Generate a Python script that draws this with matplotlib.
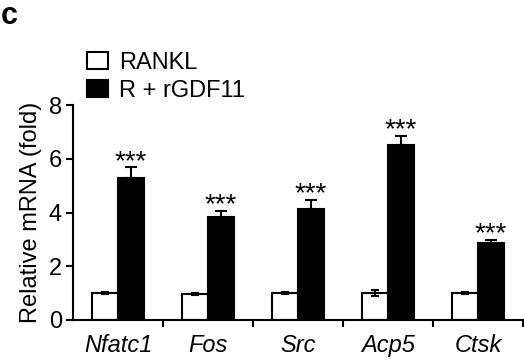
import numpy as np
import matplotlib
matplotlib.use('Agg')
import matplotlib.pyplot as plt

plt.rcParams['font.family'] = ['Liberation Sans', 'DejaVu Sans']

# data #
genes = ['Nfatc1', 'Fos', 'Src', 'Acp5', 'Ctsk']
rankl = [1.0, 0.98, 1.0, 1.0, 1.0]
rankl_err = [0.05, 0.04, 0.03, 0.1, 0.03]
rgdf11 = [5.27, 3.84, 4.13, 6.5, 2.85]
rgdf11_err = [0.41, 0.22, 0.33, 0.34, 0.12]
stars = ['***', '***', '***', '***', '***']

fig = plt.figure(figsize=(5.24, 3.62), dpi=100)
ax = fig.add_axes([73/524, 1-320/362, 450/524, 215/362])

x = np.arange(len(genes))
w = 0.29
ax.bar(x - w/2, rankl, w, color='white', edgecolor='black', linewidth=1.5,
       label='RANKL', zorder=2)
ax.bar(x + w/2, rgdf11, w, color='black', edgecolor='black', linewidth=1.5,
       label='R + rGDF11', zorder=2)
ax.errorbar(x - w/2, rankl, yerr=rankl_err, fmt='none', ecolor='black',
            elinewidth=1.5, capsize=3, capthick=1.5, zorder=3)
ax.errorbar(x + w/2, rgdf11, yerr=[np.zeros(len(genes)), rgdf11_err], fmt='none',
            ecolor='black', elinewidth=1.5, capsize=4.5, capthick=1.5, zorder=3)

for xi, v, e, s in zip(x, rgdf11, rgdf11_err, stars):
    ax.annotate(s, (xi + w/2, v + e), xytext=(0, -1), textcoords='offset points',
                ha='center', va='baseline', fontsize=20)

ax.set_xlim(-0.5, len(genes) - 0.5)
ax.set_ylim(0, 8)
ax.set_yticks([0, 2, 4, 6, 8])
ax.set_xticks(x)
ax.set_xticklabels(genes, style='italic', fontsize=17)
ax.set_xticks(np.arange(len(genes)) + 0.5, minor=True)
ax.tick_params(axis='x', which='major', length=0, pad=10)
ax.tick_params(axis='x', which='minor', length=5, width=1.5, direction='out')
ax.tick_params(axis='y', length=5, width=1.5, labelsize=17, pad=3)
ax.set_ylabel('Relative mRNA (fold)', fontsize=17, labelpad=5)
for sp in ['top', 'right']:
    ax.spines[sp].set_visible(False)
for sp in ['left', 'bottom']:
    ax.spines[sp].set_linewidth(1.5)

ax.legend(loc='upper left', bbox_to_anchor=(87/524, 1-52/362),
          bbox_transform=fig.transFigure, frameon=False, fontsize=17,
          borderpad=0, borderaxespad=0, handlelength=0.9, handleheight=0.7,
          handletextpad=0.45, labelspacing=0.25)

fig.text(1/524, 1-1/362, 'c', fontsize=22, fontweight='bold', va='top', ha='left')

plt.savefig('out.png', dpi=100)
